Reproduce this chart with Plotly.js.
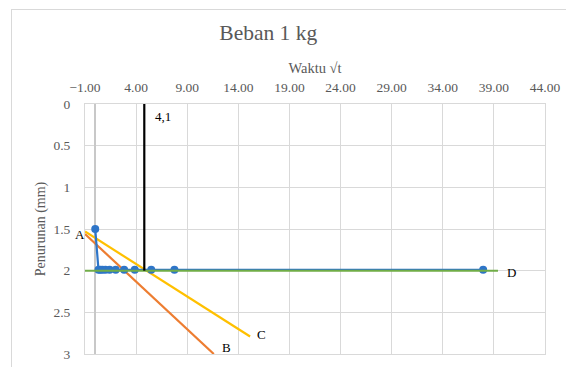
<!DOCTYPE html>
<html>
<head>
<meta charset="utf-8">
<script src="https://cdn.plot.ly/plotly-3.0.1.min.js"></script>
<style>
html,body{margin:0;padding:0;background:#fff;overflow:hidden;}
#chart{position:absolute;left:0;top:0;width:566px;height:367px;}
#frame{position:absolute;left:11px;top:9px;width:600px;height:400px;border:1px solid #d9d9d9;pointer-events:none;}
</style>
</head>
<body>
<div id="chart"></div>
<div id="frame"></div>
<script>
// Data
const sqrtT      = [0, 0.32, 0.5, 0.71, 1, 1.41, 2, 2.83, 3.87, 5.48, 7.75, 37.95];
const settlement = [1.5, 1.99, 1.99, 1.99, 1.99, 1.99, 1.99, 1.99, 1.99, 1.99, 1.99, 1.99];
const lineB_x = [-1, 11.6];
const lineB_y = [1.56, 3];
const lineC_x = [-1, 15.15];
const lineC_y = [1.53, 2.79];
const lineD_x = [-1, 39.4];
const lineD_y = [2, 2];
const marker_x = [4.8, 4.8];
const marker_y = [0, 2];
const xTickStart = -1, xTickStep = 5;
const yTickStep = 0.5;

const serif = 'Liberation Serif, Times New Roman, serif';
const grey = '#595959';

const traces = [
  {x: lineB_x, y: lineB_y, mode: 'lines', line: {color: '#ED7D31', width: 2.2}, hoverinfo: 'skip'},
  {x: lineC_x, y: lineC_y, mode: 'lines', line: {color: '#FFC000', width: 2.2}, hoverinfo: 'skip'},
  {x: sqrtT, y: settlement, mode: 'lines+markers', line: {color: '#2E75C8', width: 2.2},
   marker: {color: '#2E75C8', size: 8}},
  {x: lineD_x, y: lineD_y, mode: 'lines', line: {color: '#70AD47', width: 2}, hoverinfo: 'skip'},
  {x: marker_x, y: marker_y, mode: 'lines', line: {color: '#000000', width: 2.2}, hoverinfo: 'skip'}
];

const labelFont = {family: serif, size: 13, color: '#000'};
const layout = {
  width: 566, height: 367,
  margin: {l: 85, r: 21, t: 104, b: 13},
  paper_bgcolor: '#fff', plot_bgcolor: '#fff',
  showlegend: false,
  title: {text: 'Beban 1 kg', font: {family: serif, size: 21.5, color: grey},
          x: 0.474, xanchor: 'center', y: 0.912, yref: 'container', yanchor: 'middle'},
  xaxis: {
    side: 'top', range: [-1, 44], tick0: xTickStart, dtick: xTickStep, tickformat: '.2f',
    showgrid: true, gridcolor: '#d9d9d9', gridwidth: 1,
    zeroline: true, zerolinecolor: '#c8c8c8', zerolinewidth: 1.5,
    showline: true, linecolor: '#d9d9d9', mirror: true,
    ticks: '', ticklabelstandoff: 6, tickfont: {family: serif, size: 13.5, color: grey},
    title: {text: 'Waktu √t', font: {family: serif, size: 14.5, color: grey}, standoff: 2}
  },
  yaxis: {
    range: [3, 0], dtick: yTickStep, tick0: 0,
    showgrid: true, gridcolor: '#d9d9d9', gridwidth: 1, zeroline: false,
    showline: true, linecolor: '#d9d9d9', mirror: true,
    ticks: '', ticklabelstandoff: 11, tickfont: {family: serif, size: 13.5, color: grey},
    title: {text: 'Penurunan (mm)', font: {family: serif, size: 14, color: grey}, standoff: 4}
  },
  annotations: [
    {xref: 'paper', x: -0.026, y: 1.56, text: 'A', showarrow: false, font: labelFont},
    {x: 12.8, y: 2.92, text: 'B', showarrow: false, font: labelFont},
    {x: 16.3, y: 2.76, text: 'C', showarrow: false, font: labelFont},
    {x: 40.7, y: 2.02, text: 'D', showarrow: false, font: labelFont},
    {x: 6.6, y: 0.15, text: '4,1', showarrow: false, font: labelFont}
  ]
};

Plotly.newPlot('chart', traces, layout, {displayModeBar: false, staticPlot: true});
</script>
</body>
</html>
